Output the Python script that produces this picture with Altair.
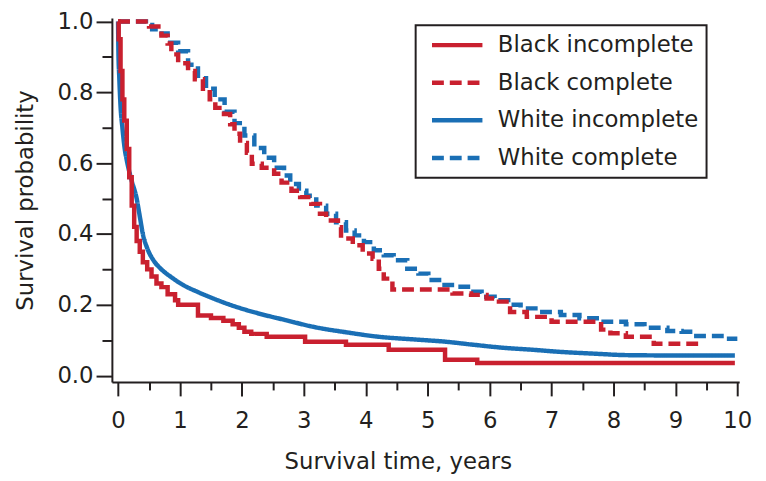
import altair as alt
import pandas as pd

# ---- data ----
series_names = ["Black incomplete", "Black complete", "White incomplete", "White complete"]
series_colors = ["#c9202f", "#c9202f", "#1a6fb5", "#1a6fb5"]
series_dashes = [[1, 0], [12, 6], [1, 0], [12, 6]]

bi_x = [0, 0.01, 0.04, 0.07, 0.10, 0.14, 0.18, 0.22, 0.26, 0.30, 0.35, 0.40, 0.47, 0.54, 0.62, 0.70,
        0.80, 0.92, 0.97, 1.29, 1.50, 1.70, 1.85, 1.95, 2.04, 2.15, 2.40, 3.02, 3.68, 4.37, 5.28, 5.80, 9.96]
bi_y = [1.0, 0.95, 0.86, 0.78, 0.72, 0.64, 0.56, 0.48, 0.42, 0.38, 0.35, 0.32, 0.30, 0.28, 0.26, 0.25,
        0.23, 0.213, 0.20, 0.17, 0.163, 0.155, 0.145, 0.135, 0.124, 0.118, 0.11, 0.096, 0.087, 0.073, 0.045, 0.036, 0.036]

bc_x = [0, 0.50, 0.70, 0.80, 0.86, 0.97, 1.13, 1.24, 1.37, 1.48, 1.57, 1.71, 1.81, 1.88, 1.97, 2.08,
        2.16, 2.32, 2.52, 2.64, 2.80, 2.94, 3.12, 3.26, 3.36, 3.55, 3.60, 3.79, 3.95, 4.11, 4.21, 4.29,
        4.43, 5.40, 5.70, 5.95, 6.15, 6.33, 6.60, 7.00, 7.80, 7.95, 8.20, 8.65, 9.38]
bc_y = [1.0, 0.986, 0.96, 0.938, 0.907, 0.882, 0.86, 0.837, 0.81, 0.78, 0.756, 0.739, 0.71, 0.683, 0.657, 0.629,
        0.598, 0.587, 0.57, 0.545, 0.522, 0.504, 0.485, 0.457, 0.438, 0.419, 0.387, 0.368, 0.345, 0.33, 0.302, 0.274,
        0.243, 0.232, 0.228, 0.218, 0.209, 0.18, 0.166, 0.152, 0.13, 0.12, 0.11, 0.09, 0.09]

wi_x = [0, 0.005, 0.02, 0.04, 0.07, 0.10, 0.15, 0.22, 0.30, 0.35, 0.40, 0.47, 0.57, 0.70, 0.86, 1.05,
        1.29, 1.55, 1.81, 2.24, 2.70, 3.15, 3.70, 4.20, 4.80, 5.28, 5.70, 6.20, 6.70, 7.15, 7.70, 8.20, 9.00, 9.96]
wi_y = [1.0, 0.92, 0.84, 0.76, 0.70, 0.65, 0.60, 0.55, 0.50, 0.45, 0.40, 0.36, 0.326, 0.30, 0.278, 0.256,
        0.236, 0.217, 0.20, 0.177, 0.157, 0.138, 0.122, 0.11, 0.102, 0.096, 0.088, 0.079, 0.073, 0.067, 0.062, 0.058, 0.057, 0.057]

wc_x = [0, 0.45, 0.55, 0.65, 0.80, 0.97, 1.13, 1.29, 1.42, 1.56, 1.72, 1.88, 2.04, 2.20, 2.36, 2.52,
        2.68, 2.78, 2.92, 3.04, 3.20, 3.36, 3.52, 3.68, 3.82, 3.97, 4.13, 4.29, 4.45, 4.67, 4.85, 5.01,
        5.23, 5.44, 5.65, 5.87, 6.08, 6.30, 6.50, 6.80, 7.15, 7.45, 7.79, 8.20, 8.50, 8.87, 9.10, 9.30, 9.80, 10.0]
wc_y = [1.0, 0.99, 0.978, 0.966, 0.94, 0.916, 0.878, 0.84, 0.81, 0.78, 0.745, 0.713, 0.678, 0.643, 0.615, 0.587,
        0.565, 0.541, 0.522, 0.508, 0.48, 0.457, 0.433, 0.41, 0.396, 0.377, 0.354, 0.34, 0.326, 0.302, 0.288, 0.27,
        0.256, 0.251, 0.237, 0.223, 0.213, 0.20, 0.19, 0.18, 0.171, 0.162, 0.152, 0.145, 0.135, 0.126, 0.124, 0.112, 0.104, 0.104]

x_ticks = [0, 0.5, 1, 1.5, 2, 2.5, 3, 3.5, 4, 4.5, 5, 5.5, 6, 6.5, 7, 7.5, 8, 8.5, 9, 9.5, 10]
y_ticks = [0.0, 0.1, 0.2, 0.3, 0.4, 0.5, 0.6, 0.7, 0.8, 0.9, 1.0]


def frame(name, xs, ys):
    return pd.DataFrame({"series": name, "t": xs, "s": ys, "i": range(len(xs))})


step_df = pd.concat([
    frame("White complete", wc_x, wc_y),
    frame("Black incomplete", bi_x, bi_y),
    frame("Black complete", bc_x, bc_y),
])
smooth_df = frame("White incomplete", wi_x, wi_y)

FONT = "DejaVu Sans"
FS = 23
INK = "#231f20"

x_enc = alt.X(
    "t:Q",
    scale=alt.Scale(domain=[-0.1, 10.03], nice=False, zero=False),
    axis=alt.Axis(
        values=x_ticks,
        labelExpr="datum.value % 1 === 0 ? format(datum.value, 'd') : ''",
        tickSize={"condition": {"test": "datum.value % 1 === 0", "value": 14}, "value": 8},
        labelPadding=14,
        title="Survival time, years",
        titleX=289,
        titleY=87,
        titleBaseline="alphabetic",
        grid=False,
    ),
)
y_enc = alt.Y(
    "s:Q",
    scale=alt.Scale(domain=[-0.018, 1.01], nice=False, zero=False),
    axis=alt.Axis(
        values=y_ticks,
        labelExpr="round(datum.value * 10) % 2 === 0 ? format(datum.value, '.1f') : ''",
        tickSize={"condition": {"test": "round(datum.value * 10) % 2 === 0", "value": 16}, "value": 10},
        labelPadding=3,
        title="Survival probability",
        titleX=-80,
        titleBaseline="alphabetic",
        grid=False,
    ),
)
legend_opts = dict(
    title=None,
    orient="none",
    legendX=307,
    legendY=7.5,
    symbolType="stroke",
    symbolSize=2600,
    symbolStrokeWidth=4.5,
    symbolOffset=6,
    labelOffset=13,
    labelLimit=400,
    clipHeight=24,
    rowPadding=14,
    padding=8,
    strokeColor=INK,
)
color_enc = alt.Color(
    "series:N",
    scale=alt.Scale(domain=series_names, range=series_colors),
    legend=alt.Legend(**legend_opts),
)
dash_enc = alt.StrokeDash(
    "series:N",
    scale=alt.Scale(domain=series_names, range=series_dashes),
    legend=alt.Legend(**legend_opts),
)

smooth = alt.Chart(smooth_df).mark_line(strokeWidth=4.5, interpolate="monotone").encode(
    x=x_enc, y=y_enc, color=color_enc, strokeDash=dash_enc, order="i:Q"
)
steps = alt.Chart(step_df).mark_line(strokeWidth=4.5, interpolate="step-after").encode(
    x=x_enc, y=y_enc, color=color_enc, strokeDash=dash_enc, order="i:Q"
)

chart = (
    alt.layer(smooth, steps)
    .properties(
        width=634,
        height=368,
        autosize=alt.AutoSizeParams(type="none"),
        padding={"left": 105, "top": 7.5, "right": 19, "bottom": 97},
    )
    .configure_view(stroke=None)
    .configure_axis(
        domainColor=INK,
        domainWidth=2,
        tickColor=INK,
        tickWidth=2,
        labelFont=FONT,
        labelFontSize=FS,
        labelColor=INK,
        titleFont=FONT,
        titleFontSize=FS,
        titleFontWeight="normal",
        titleColor=INK,
    )
    .configure_legend(
        labelFont=FONT,
        labelFontSize=FS,
        labelColor=INK,
        strokeWidth=2,
    )
)

chart.save("out.html", embed_options={"renderer": "svg", "actions": False})
